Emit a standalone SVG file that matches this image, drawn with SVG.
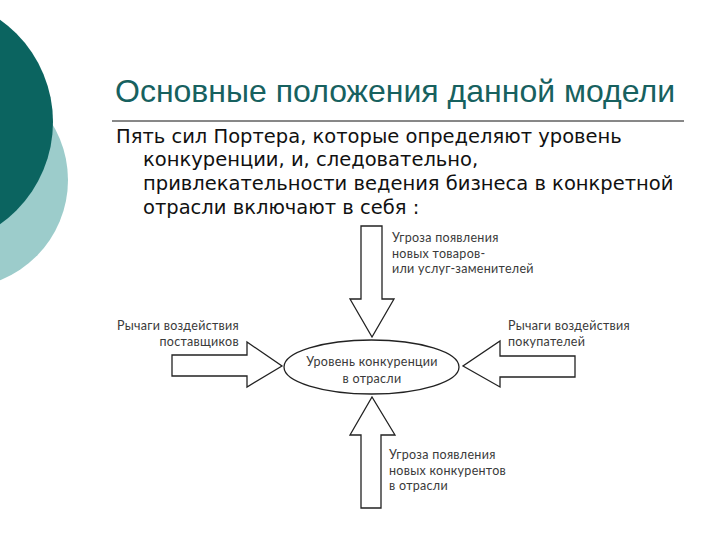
<svg xmlns="http://www.w3.org/2000/svg" width="720" height="540" viewBox="0 0 720 540">
<defs>
<style>
.title{font-family:"Liberation Sans",Arial,sans-serif;font-size:32px;fill:#17615f}
.body{font-family:"DejaVu Sans",Verdana,sans-serif;font-size:19.5px;fill:#111}
.lbl{font-family:Lato,"Open Sans",sans-serif;font-size:12.5px;letter-spacing:0.3px;fill:#3a3a3a}
.arrow{fill:#fff;stroke:#222;stroke-width:1.3;stroke-linejoin:miter}
</style>
</defs>
<rect width="720" height="540" fill="#fff"/>
<circle cx="-40" cy="180" r="108" fill="#9ccccb"/>
<circle cx="-72" cy="122" r="125" fill="#0b6460"/>
<text class="title" x="115" y="102">Основные положения данной модели</text>
<line x1="112" y1="121" x2="684" y2="121" stroke="#111" stroke-width="1"/>
<g class="body">
<text x="116" y="143">Пять сил Портера, которые определяют уровень</text>
<text x="143" y="166">конкуренции, и, следовательно,</text>
<text x="143" y="190">привлекательности ведения бизнеса в конкретной</text>
<text x="143" y="214">отрасли включают в себя :</text>
</g>
<g id="connectors">
<polygon id="arrow-top" class="arrow" points="361,226 382,226 382,299 394,299 372,337 350,299 361,299"/>
<polygon id="arrow-left" class="arrow" points="172,355 247,355 247,342 282,366 247,387 247,376 172,376"/>
<polygon id="arrow-right" class="arrow" points="575,356 500,356 500,341 463,366 500,387 500,377 575,377"/>
<polygon id="arrow-bottom" class="arrow" points="361,508 381,508 381,435 395,435 372,397 350,435 361,435"/>
</g>
<g id="node-center">
<ellipse cx="371.5" cy="367" rx="87.5" ry="27" fill="#fff" stroke="#222" stroke-width="1.3"/>
<text class="lbl" x="372" y="366" text-anchor="middle">Уровень конкуренции</text>
<text class="lbl" x="372" y="383" text-anchor="middle">в отрасли</text>
</g>
<g id="node-top" class="lbl">
<text x="392" y="242">Угроза появления</text>
<text x="392" y="258">новых товаров-</text>
<text x="392" y="273">или услуг-заменителей</text>
</g>
<g id="node-left" class="lbl" text-anchor="end">
<text x="239" y="330">Рычаги воздействия</text>
<text x="239" y="346">поставщиков</text>
</g>
<g id="node-right" class="lbl">
<text x="508" y="330">Рычаги воздействия</text>
<text x="508" y="346">покупателей</text>
</g>
<g id="node-bottom" class="lbl">
<text x="389" y="459">Угроза появления</text>
<text x="389" y="475">новых конкурентов</text>
<text x="389" y="490">в отрасли</text>
</g>
</svg>
